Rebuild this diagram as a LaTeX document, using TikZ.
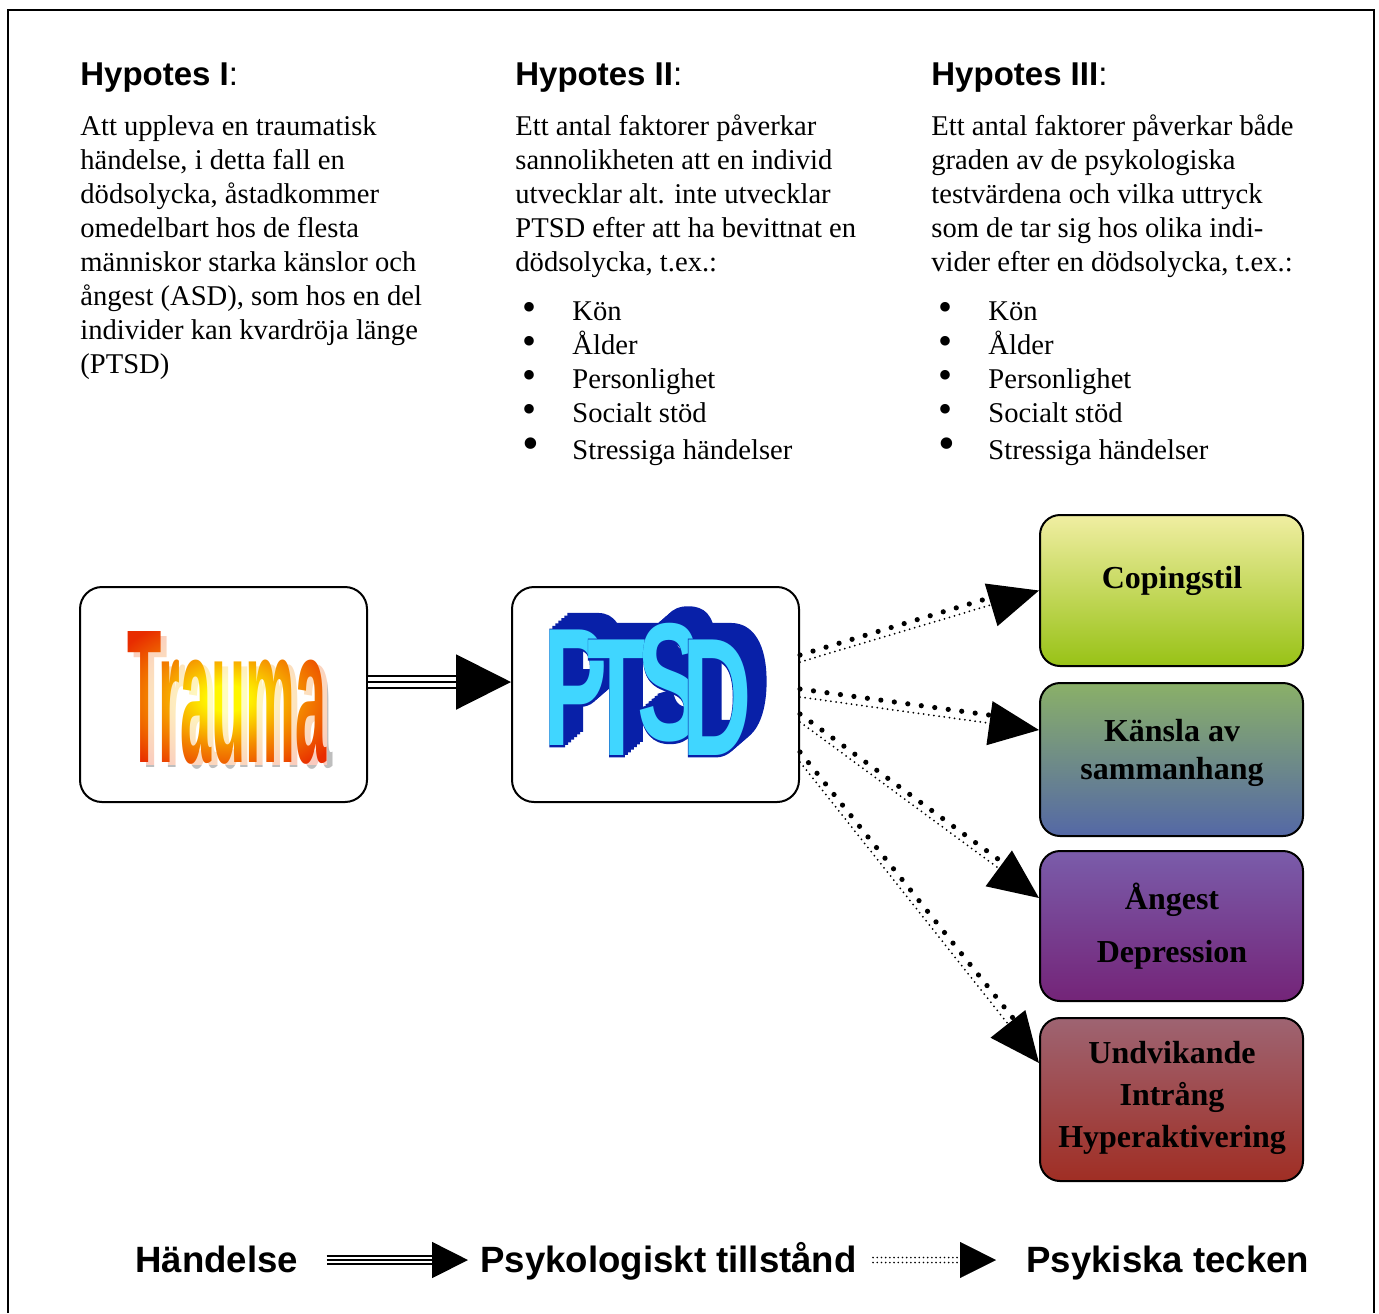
\documentclass[tikz,border=0pt]{standalone}
\usepackage{graphicx}
\usepackage{fontspec}
\setmainfont{Liberation Serif}
\newfontfamily\arialf{Liberation Sans}
\newfontface\ptsdfillfont{Liberation Sans Bold}
\newfontface\ptsdoutfont[FakeBold=2]{Liberation Sans Bold}
\usetikzlibrary{arrows.meta,calc}
\definecolor{copT}{RGB}{240,238,162}
\definecolor{copB}{RGB}{152,194,22}
\definecolor{kanT}{RGB}{138,176,104}
\definecolor{kanB}{RGB}{84,104,166}
\definecolor{angT}{RGB}{122,92,170}
\definecolor{angB}{RGB}{116,36,120}
\definecolor{undT}{RGB}{158,100,114}
\definecolor{undB}{RGB}{160,46,36}
\definecolor{trred}{RGB}{232,44,0}
\definecolor{trorange}{RGB}{244,140,0}
\definecolor{tryellow}{RGB}{255,246,0}
\definecolor{trshadow}{RGB}{190,190,190}
\definecolor{ptsdcyan}{RGB}{64,214,255}
\definecolor{ptsddark}{RGB}{8,32,168}
\pgfdeclareradialshading{trshade}{\pgfpoint{0bp}{0bp}}{color(0bp)=(tryellow); color(5bp)=(tryellow); color(18bp)=(trorange); color(32bp)=(trred); color(50bp)=(trred)}
\newcommand\trword{\scalebox{1}[3.4]{\arialf\bfseries\fontsize{28}{28}\selectfont Trauma}}
\newcommand\ptsdfill[1]{\scalebox{1}[1.75]{\ptsdfillfont\fontsize{48}{48}\selectfont #1}}
\newcommand\ptsdout[1]{\scalebox{1}[1.75]{\ptsdoutfont\fontsize{48}{48}\selectfont #1}}
\newcommand\bul[1]{\hspace*{3.5pt}\makebox[25pt][l]{\fontsize{#1}{17}\selectfont\textbullet}}
\begin{document}
\begin{tikzpicture}[x=0.5pt,y=-0.5pt,
  box/.style={draw=black, line width=1pt, rounded corners=11pt, fill=white, minimum width=143.5pt, minimum height=107.5pt, inner sep=0},
  rbox/.style={draw=black, line width=1pt, rounded corners=10pt, minimum width=131.5pt, inner sep=0},
  head/.style={anchor=base west, inner sep=0, font=\arialf\fontsize{16.5}{20}\selectfont},
  body/.style={anchor=base west, inner sep=0, font=\fontsize{14.3}{17}\selectfont},
  lbl/.style={align=center, inner sep=0, font=\bfseries\fontsize{16}{19}\selectfont},
  leg/.style={anchor=base west, inner sep=0, font=\arialf\bfseries\fontsize{18.3}{20}\selectfont, text height=13pt, text depth=1pt},
  smalldots/.style={line width=1pt, line cap=round, dash pattern=on 0pt off 2.6pt},
  bigdots/.style={line width=2.6pt, line cap=round, dash pattern=on 0pt off 6.8pt},
  bighead/.style={-{Triangle[length=25pt,width=22pt]}},
  word/.style={inner sep=0}]
\useasboundingbox (0,0) rectangle (1379,1313);
\draw[line width=1pt] (8,1313) -- (8,10) -- (1374,10) -- (1374,1313);

% headings
\node[head] (h1) at (80,85) {\textbf{Hypotes I}:};
\node[head] (h2) at (515,85) {\textbf{Hypotes II}:};
\node[head] (h3) at (931,85) {\textbf{Hypotes III}:};

% texts
\node[body] (b1) at (80,135) {\parbox[t]{200pt}{\raggedright Att uppleva en traumatisk\\händelse, i detta fall en\\dödsolycka, åstadkommer\\omedelbart hos de flesta\\människor starka känslor och\\ångest (ASD), som hos en del\\individer kan kvardröja länge\\(PTSD)}};
\node[body] (b2) at (515,135) {\parbox[t]{200pt}{\raggedright Ett antal faktorer påverkar\\sannolikheten att en individ\\utvecklar alt. inte utvecklar\\PTSD efter att ha bevittnat en\\dödsolycka, t.ex.:}};
\node[body] (b3) at (931,135) {\parbox[t]{200pt}{\raggedright Ett antal faktorer påverkar både\\graden av de psykologiska\\testvärdena och vilka uttryck\\som de tar sig hos olika indi-\\vider efter en dödsolycka, t.ex.:}};
\node[body] (l2) at (515,320) {\parbox[t]{200pt}{\raggedright
\bul{20}Kön\\
\bul{20}Ålder\\
\bul{20}Personlighet\\
\bul{20}Socialt stöd\\[1.5pt]
\bul{24}Stressiga händelser}};
\node[body] (l3) at (931,320) {\parbox[t]{200pt}{\raggedright
\bul{20}Kön\\
\bul{20}Ålder\\
\bul{20}Personlighet\\
\bul{20}Socialt stöd\\[1.5pt]
\bul{24}Stressiga händelser}};

% main boxes
\node[box] (trauma) at (223.5,694.5) {};
\node[box] (ptsd) at (655.5,694.5) {};

% Trauma word art: shadow, black text, coloured by a screened radial shading
\node[word] (trsh) at (233,703) {\color{trshadow}\trword};
\node[word] (trk) at (227,698) {\color{black}\trword};
\begin{scope}[blend mode=screen]
  \shade[shading=trshade] (trk.south west) rectangle (trk.north east);
\end{scope}

% PTSD word art
\foreach \L/\x/\y [count=\i] in {P/576/688,T/617/698,S/670/683,D/717/698} {
  \foreach \k in {1,...,6}
    \node[word] (px\i-\k) at ({\x+3*\k},{\y-2.6*\k}) {\color{ptsddark}\ptsdout{\L}};
}
\foreach \L/\x/\y [count=\i] in {P/576/688,T/617/698,S/670/683,D/717/698} {
  \node[word] (po\i) at (\x,\y) {\color{ptsddark}\ptsdout{\L}};
  \node[word] (pf\i) at (\x,\y) {\color{ptsdcyan}\ptsdfill{\L}};
}

% right boxes
\node[rbox, minimum height=75.5pt, top color=copT, bottom color=copB] (cop) at (1171.5,590.5) {};
\node[rbox, minimum height=76.5pt, top color=kanT, bottom color=kanB] (kan) at (1171.5,759.5) {};
\node[rbox, minimum height=75pt, top color=angT, bottom color=angB] (ang) at (1171.5,926) {};
\node[rbox, minimum height=81.5pt, top color=undT, bottom color=undB] (und) at (1171.5,1099.5) {};
\node[lbl, anchor=base] (copl) at (1172,588) {Copingstil};
\node[lbl, anchor=base] (kanl1) at (1172,741) {Känsla av};
\node[lbl, anchor=base] (kanl2) at (1172,779) {sammanhang};
\node[lbl, anchor=base] (angl1) at (1172,909) {Ångest};
\node[lbl, anchor=base] (angl2) at (1172,962) {Depression};
\node[lbl, anchor=base] (undl1) at (1172,1063) {Undvikande};
\node[lbl, anchor=base] (undl2) at (1172,1105) {Intrång};
\node[lbl, anchor=base] (undl3) at (1172,1147) {Hyperaktivering};

% Trauma -> PTSD triple arrow
\coordinate (ta) at (trauma.east |- 0,682);
\coordinate (pa) at (ptsd.west |- 0,682);
\draw[line width=7pt, shorten >=27pt] (ta) -- (pa);
\draw[white, line width=5pt, shorten >=27pt] (ta) -- (pa);
\draw[line width=1pt, -{Triangle[length=27.5pt,width=27.5pt]}] (ta) -- (pa);

% dotted arrows
\coordinate (s1) at (ptsd.east |- 0,662);
\coordinate (s2) at (ptsd.east |- 0,697);
\coordinate (s3) at (ptsd.east |- 0,722);
\coordinate (s4) at (ptsd.east |- 0,762);
\coordinate (t1) at (cop.west);
\coordinate (t2) at (kan.west |- 0,730);
\coordinate (t3) at (ang.west |- 0,898);
\coordinate (t4) at (und.west |- 0,1063);
\draw[smalldots, bighead] (s1) -- (t1);
\draw[smalldots, bighead] (s2) -- (t2);
\draw[smalldots, bighead] (s3) -- (t3);
\draw[smalldots, bighead] (s4) -- (t4);
\draw[bigdots, shorten >=24pt] ($(s1)+(0,-7)$) -- ($(t1)+(-2,-7)$);
\draw[bigdots, shorten >=24pt] ($(s2)+(0,-8)$) -- ($(t2)+(1,-8)$);
\draw[bigdots, shorten >=24pt] ($(s3)+(0,-8)$) -- ($(t3)+(4,-6)$);
\draw[bigdots, shorten >=24pt] ($(s4)+(0,-10)$) -- ($(t4)+(6,-5)$);

% legend
\node[leg] (leg1) at (135,1272) {Händelse};
\node[leg] (leg2) at (480,1272) {Psykologiskt tillstånd};
\node[leg] (leg3) at (1026,1272) {Psykiska tecken};
\coordinate (la) at ([xshift=14pt]leg1.east);
\coordinate (lb) at ([xshift=-6pt]leg2.west);
\draw[line width=5pt, shorten >=17pt] (la) -- (lb);
\draw[white, line width=3.4pt, shorten >=17pt] (la) -- (lb);
\draw[line width=0.8pt, -{Triangle[length=18pt,width=18pt]}] (la) -- (lb);
\coordinate (lc) at ([xshift=8pt]leg2.east);
\coordinate (ld) at ([xshift=-15pt]leg3.west);
\draw[white, line width=0.2pt, -{Triangle[length=18pt,width=18pt,black]}] (lc) -- (ld);
\draw[line width=0.9pt, line cap=round, dash pattern=on 0pt off 2.1pt, shorten >=17pt] ($(lc)+(0,-2.5)$) -- ($(ld)+(0,-2.5)$);
\draw[line width=0.9pt, line cap=round, dash pattern=on 0pt off 2.1pt, shorten >=17pt] ($(lc)+(0,2.5)$) -- ($(ld)+(0,2.5)$);
\end{tikzpicture}
\end{document}
